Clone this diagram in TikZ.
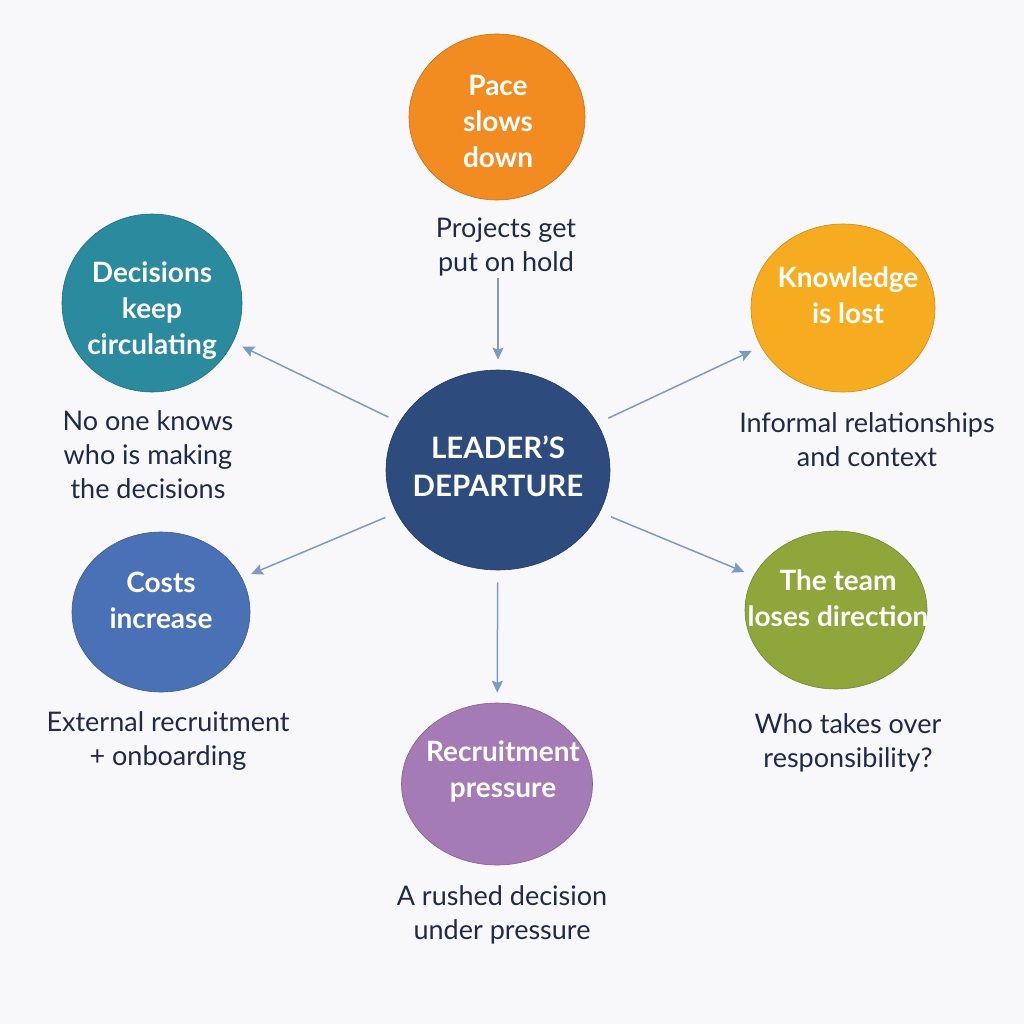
\documentclass[tikz,border=0pt]{standalone}
\usepackage{fontspec}
\setmainfont{Lato}
\usetikzlibrary{arrows.meta,shapes.geometric}
\definecolor{PageBack}{HTML}{F8F8FB}
\definecolor{NoteText}{HTML}{1F2A48}
\definecolor{LinkBlue}{HTML}{7C9BC4}
\definecolor{LeadFill}{HTML}{2D4B7C}
\definecolor{PaceFill}{HTML}{F28B20}
\definecolor{KnowFill}{HTML}{F7AC1F}
\definecolor{TeamFill}{HTML}{8FA63A}
\definecolor{HireFill}{HTML}{A47BB5}
\definecolor{CostFill}{HTML}{4A70B5}
\definecolor{DecFill}{HTML}{2A8A9E}

\begin{document}
\begin{tikzpicture}[x=1pt, y=-1pt, >={Stealth[length=12pt, width=11pt, inset=2pt]},
            bubble/.style={ellipse, draw=#1!80!black, line width=0.6pt, fill=#1,
                           inner sep=0pt},
            bubtext/.style={align=center, text=white, inner sep=0pt,
                            font=\fontsize{28}{36}\selectfont\bfseries},
            note/.style={align=center, text=NoteText, inner sep=2pt,
                         font=\fontsize{27}{34}\selectfont},
            link/.style={->, LinkBlue, line width=1.5pt, shorten >=10pt, shorten <=12pt}]

            \fill[PageBack] (0,0) rectangle (1024,1024);
            \useasboundingbox (0,0) rectangle (1024,1024);

            % centro
            \node[bubble=LeadFill, minimum width=224pt, minimum height=200pt] (lead) at (498, 470) {};
            \node[bubtext, font=\fontsize{29.5}{38}\selectfont\bfseries] (leadlbl) at (498, 466) {LEADER’S\\DEPARTURE};

            % efeitos
            \node[bubble=PaceFill, minimum width=176pt, minimum height=166pt] (pace) at (497, 117) {};
            \node[bubtext] (pacelbl) at (498, 121) {Pace\\slows\\down};

            \node[bubble=KnowFill, minimum width=184pt, minimum height=168pt] (know) at (843, 308) {};
            \node[bubtext] (knowlbl) at (848, 295) {Knowledge\\is lost};

            \node[bubble=TeamFill, minimum width=182pt, minimum height=158pt] (team) at (836, 610) {};
            \node[bubtext] (teamlbl) at (838, 598) {The team\\loses direction};

            \node[bubble=HireFill, minimum width=191pt, minimum height=162pt] (hire) at (497, 784) {};
            \node[bubtext] (hirelbl) at (503, 771) {Recruitment\\pressure};

            \node[bubble=CostFill, minimum width=178pt, minimum height=160pt] (cost) at (161, 612) {};
            \node[bubtext] (costlbl) at (161, 600) {Costs\\increase};

            \node[bubble=DecFill, minimum width=180pt, minimum height=178pt] (dec) at (152, 303) {};
            \node[bubtext] (declbl) at (152, 311) {Decisions\\keep\\circulating};

            % notas
            \node[note] (pacenote) at (506, 247) {Projects get\\put on hold};
            \node[note] (knownote) at (867, 440) {Informal relationships\\and context};
            \node[note] (teamnote) at (848, 743) {Who takes over\\responsibility?};
            \node[note] (hirenote) at (502, 915) {A rushed decision\\under pressure};
            \node[note] (costnote) at (168, 741) {External recruitment\\+ onboarding};
            \node[note] (decnote)  at (148, 455) {No one knows\\who is making\\the decisions};

            % ligações
            \draw[link, shorten <=0pt] (pacenote.south -| lead.north) -- (lead.north);
            \draw[link] (lead) -- (know);
            \draw[link] (lead) -- (team);
            \draw[link] (lead) -- (hire);
            \draw[link] (lead) -- (cost);
            \draw[link] (lead) -- (dec);
        \end{tikzpicture}
\end{document}
